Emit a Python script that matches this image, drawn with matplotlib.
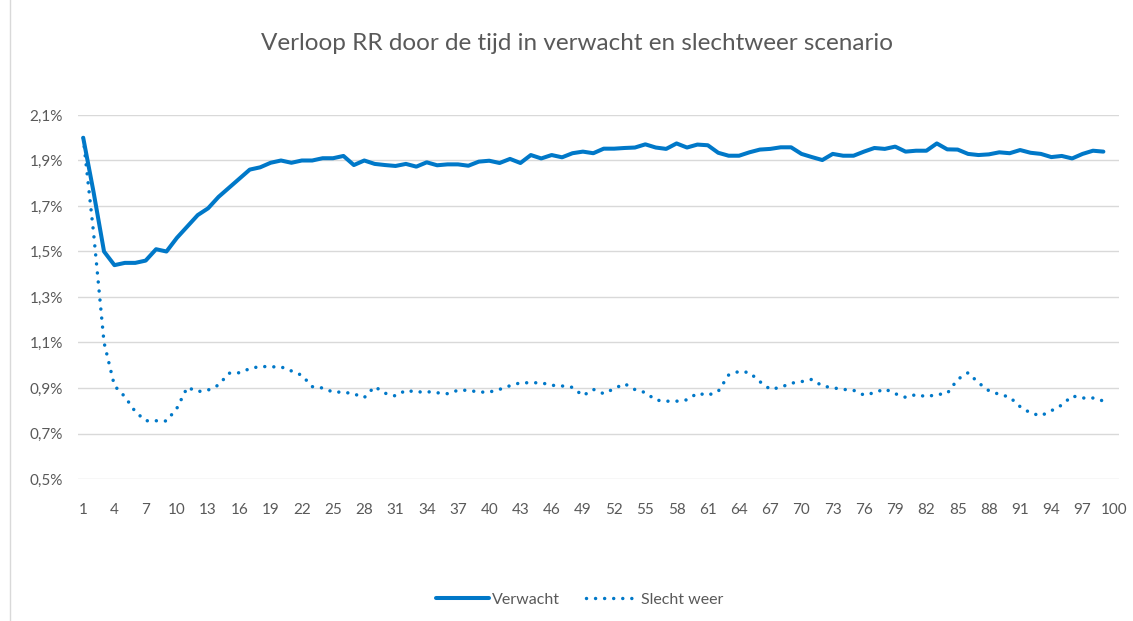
import matplotlib
matplotlib.use("Agg")
import matplotlib.pyplot as plt
from matplotlib.lines import Line2D
from matplotlib.ticker import FuncFormatter

# ---- data (values in %) ----
periods = list(range(1, 100))
verwacht = [
    2.00, 1.76, 1.50, 1.44, 1.45, 1.45, 1.46, 1.51, 1.50, 1.56,
    1.61, 1.66, 1.69, 1.74, 1.78, 1.82, 1.86, 1.87, 1.89, 1.90,
    1.89, 1.90, 1.90, 1.91, 1.91, 1.92, 1.88, 1.90, 1.885, 1.88,
    1.876, 1.885, 1.873, 1.892, 1.879, 1.883, 1.883, 1.877, 1.895, 1.899,
    1.889, 1.907, 1.889, 1.924, 1.909, 1.924, 1.914, 1.932, 1.939, 1.932,
    1.952, 1.952, 1.955, 1.957, 1.971, 1.957, 1.951, 1.975, 1.957, 1.970,
    1.967, 1.934, 1.921, 1.921, 1.936, 1.948, 1.951, 1.958, 1.958, 1.929,
    1.915, 1.902, 1.929, 1.921, 1.921, 1.939, 1.955, 1.951, 1.961, 1.939,
    1.943, 1.943, 1.975, 1.949, 1.948, 1.929, 1.924, 1.927, 1.936, 1.932,
    1.946, 1.934, 1.929, 1.915, 1.920, 1.909, 1.929, 1.943, 1.939,
]
slecht_weer = [
    2.00, 1.58, 1.10, 0.91, 0.862, 0.796, 0.756, 0.756, 0.755, 0.811,
    0.903, 0.884, 0.891, 0.913, 0.965, 0.967, 0.985, 0.995, 0.993, 0.993,
    0.975, 0.956, 0.906, 0.900, 0.882, 0.882, 0.874, 0.858, 0.906, 0.877,
    0.865, 0.890, 0.882, 0.884, 0.879, 0.875, 0.890, 0.890, 0.882, 0.882,
    0.894, 0.910, 0.923, 0.923, 0.923, 0.912, 0.909, 0.903, 0.866, 0.894,
    0.875, 0.897, 0.919, 0.893, 0.880, 0.847, 0.842, 0.842, 0.848, 0.877,
    0.868, 0.885, 0.957, 0.973, 0.968, 0.928, 0.894, 0.903, 0.921, 0.928,
    0.938, 0.909, 0.901, 0.894, 0.890, 0.869, 0.879, 0.896, 0.875, 0.859,
    0.871, 0.862, 0.871, 0.876, 0.938, 0.967, 0.923, 0.888, 0.872, 0.860,
    0.818, 0.790, 0.778, 0.800, 0.825, 0.865, 0.856, 0.856, 0.843,
]
x_tick_labels = list(range(1, 101, 3))
y_ticks = [0.5, 0.7, 0.9, 1.1, 1.3, 1.5, 1.7, 1.9, 2.1]
title = "Verloop RR door de tijd in verwacht en slechtweer scenario"
series_names = ["Verwacht", "Slecht weer"]

# ---- style ----
plt.rcParams['font.family'] = ['Lato', 'DejaVu Sans']
blue = '#0078C8'
grey_text = '#595959'
grid_col = '#D9D9D9'
dot_style = (0, (0.01, 2.6))

fig = plt.figure(figsize=(11.33, 6.21), dpi=100)
ax = fig.add_axes([78 / 1133, 1 - 479 / 621, (1119 - 78) / 1133, (479 - 115) / 621])

ax.plot(periods, verwacht, color=blue, lw=2.9, solid_joinstyle='round',
        solid_capstyle='round', label=series_names[0])
ax.plot(periods, slecht_weer, color=blue, lw=2.5, linestyle=dot_style,
        dash_capstyle='round', label=series_names[1])

ax.set_xlim(0.5, 100.5)
ax.set_ylim(0.5, 2.1)
ax.set_yticks(y_ticks)
ax.yaxis.set_major_formatter(FuncFormatter(lambda v, p: f"{v:.1f}%".replace('.', ',')))
ax.set_xticks(x_tick_labels)
ax.set_xticklabels([str(v) for v in x_tick_labels])

ax.grid(axis='y', color=grid_col, lw=1.0)
ax.set_axisbelow(True)
for s in ax.spines.values():
    s.set_visible(False)
ax.tick_params(axis='both', length=0, colors=grey_text, labelsize=11)
ax.tick_params(axis='y', pad=11)
ax.tick_params(axis='x', pad=17)

fig.text(577 / 1133, 1 - 44 / 621, title, ha='center', va='center',
         fontsize=17.5, color=grey_text)

handles = [Line2D([], [], color=blue, lw=2.9, solid_capstyle='round'),
           Line2D([], [], color=blue, lw=2.5, linestyle=dot_style,
                  dash_capstyle='round')]
fig.legend(handles, series_names, loc='center', bbox_to_anchor=(580 / 1133, 1 - 600 / 621),
           ncol=2, frameon=False, fontsize=11.5, labelcolor=grey_text,
           handlelength=3.3, handletextpad=0.2, columnspacing=1.6)

# chart area border (left edge visible)
fig.add_artist(Line2D([10 / 1133, 10 / 1133], [0, 1], transform=fig.transFigure,
                      color=grid_col, lw=1.0))

fig.savefig("out.png", dpi=100)
